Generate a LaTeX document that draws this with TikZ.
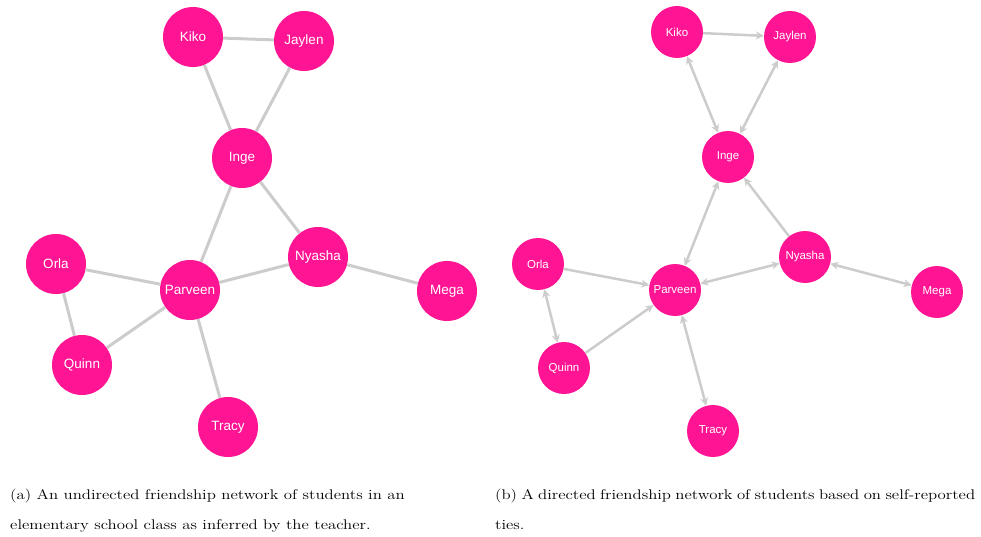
\documentclass[tikz,border=0pt]{standalone}
\usepackage{fontspec}
\newfontfamily\nodefont{Liberation Sans}
\newfontfamily\capfont{Latin Modern Roman}[FakeStretch=1.2]
\usetikzlibrary{arrows.meta}
\definecolor{friendpink}{HTML}{FF1493}
\definecolor{tiegray}{HTML}{CCCCCC}
\tikzset{>={Stealth[length=8pt,width=8pt]}}
\tikzset{
    pupilA/.style = {circle, fill=friendpink, minimum size=60pt, inner sep=0pt,
        text=white, font=\nodefont\fontsize{13.5}{15}\selectfont},
    pupilB/.style = {circle, fill=friendpink, minimum size=52pt, inner sep=0pt,
        text=white, font=\nodefont\fontsize{11.5}{13}\selectfont},
    tie/.style = {draw=tiegray, line width=3pt},
    arc/.style = {draw=tiegray, line width=2.5pt},
    caption/.style = {anchor=north west, align=left, inner sep=0pt,
        font=\capfont\fontsize{14}{30}\selectfont}
}

\begin{document}
\begin{tikzpicture}[x=1pt, y=-1pt]
    \useasboundingbox (0,0) rectangle (981,537);
    % (a) undirected network
    \node[pupilA] (kikoA)    at (193,37)  {Kiko};
    \node[pupilA] (jaylenA)  at (304,41)  {Jaylen};
    \node[pupilA] (ingeA)    at (242,158) {Inge};
    \node[pupilA] (nyashaA)  at (318,257) {Nyasha};
    \node[pupilA] (megaA)    at (447,291) {Mega};
    \node[pupilA] (orlaA)    at (56,264)  {Orla};
    \node[pupilA] (parveenA) at (190,290) {Parveen};
    \node[pupilA] (quinnA)   at (82,365)  {Quinn};
    \node[pupilA] (tracyA)   at (228,427) {Tracy};
    \draw[tie] (kikoA) -- (jaylenA);
    \draw[tie] (kikoA) -- (ingeA);
    \draw[tie] (jaylenA) -- (ingeA);
    \draw[tie] (ingeA) -- (parveenA);
    \draw[tie] (ingeA) -- (nyashaA);
    \draw[tie] (parveenA) -- (nyashaA);
    \draw[tie] (nyashaA) -- (megaA);
    \draw[tie] (orlaA) -- (parveenA);
    \draw[tie] (orlaA) -- (quinnA);
    \draw[tie] (quinnA) -- (parveenA);
    \draw[tie] (parveenA) -- (tracyA);
    % (b) directed network
    \node[pupilB] (kikoB)    at (677,32)  {Kiko};
    \node[pupilB] (jaylenB)  at (790,37)  {Jaylen};
    \node[pupilB] (ingeB)    at (728,157) {Inge};
    \node[pupilB] (nyashaB)  at (805,257) {Nyasha};
    \node[pupilB] (megaB)    at (937,292) {Mega};
    \node[pupilB] (orlaB)    at (538,264) {Orla};
    \node[pupilB] (parveenB) at (675,290) {Parveen};
    \node[pupilB] (quinnB)   at (564,368) {Quinn};
    \node[pupilB] (tracyB)   at (713,431) {Tracy};
    \draw[arc, ->]  (kikoB) -- (jaylenB);
    \draw[arc, <->] (kikoB) -- (ingeB);
    \draw[arc, <->] (jaylenB) -- (ingeB);
    \draw[arc, <->] (ingeB) -- (parveenB);
    \draw[arc, ->]  (nyashaB) -- (ingeB);
    \draw[arc, <->] (parveenB) -- (nyashaB);
    \draw[arc, <->] (nyashaB) -- (megaB);
    \draw[arc, ->]  (orlaB) -- (parveenB);
    \draw[arc, <->] (orlaB) -- (quinnB);
    \draw[arc, ->]  (quinnB) -- (parveenB);
    \draw[arc, <->] (parveenB) -- (tracyB);
    % captions
    \node[caption] (capA) at (10,489)
        {(a) An undirected friendship network of students in an\\
         elementary school class as inferred by the teacher.};
    \node[caption] (capB) at (495,489)
        {\spaceskip=0.8\fontdimen2\font
         (b) A directed friendship network of students based on self-reported\\
         ties.};
\end{tikzpicture}
\end{document}
